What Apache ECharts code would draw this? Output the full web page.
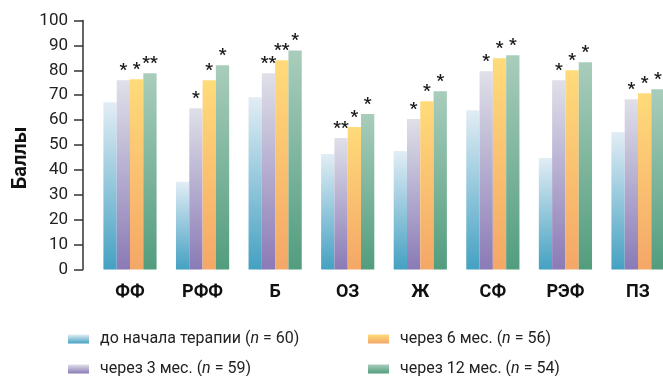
<!DOCTYPE html>
<html>
<head>
<meta charset="utf-8">
<script src="https://cdn.jsdelivr.net/npm/echarts@6/dist/echarts.min.js"></script>
<style>
  html, body { margin: 0; padding: 0; background: #fff; }
  #chart { width: 663px; height: 376px; }
</style>
</head>
<body>
<div id="chart"></div>
<script>
// Quality-of-life domains (scores, 0–100)
const categories = ['ФФ', 'РФФ', 'Б', 'ОЗ', 'Ж', 'СФ', 'РЭФ', 'ПЗ'];

const baseline = [67.2, 35.2, 69.2, 46.4, 47.6, 64.0, 44.8, 55.2];
const month3   = [76.0, 64.8, 78.8, 52.8, 60.4, 79.6, 76.0, 68.4];
const month6   = [76.4, 76.0, 84.0, 57.2, 67.6, 84.8, 80.0, 70.8];
const month12  = [78.8, 82.0, 88.0, 62.4, 71.6, 86.0, 83.2, 72.4];

// significance marks above each bar
const marks0  = ['', '', '', '', '', '', '', ''];
const marks3  = ['*', '*', '**', '**', '*', '*', '*', '*'];
const marks6  = ['*', '*', '**', '*', '*', '*', '*', '*'];
const marks12 = ['**', '*', '*', '*', '*', '*', '*', '*'];

const yTicks = [0, 10, 20, 30, 40, 50, 60, 70, 80, 90, 100];

const seriesNames = [
  'до начала терапии (n = 60)',
  'через 3 мес. (n = 59)',
  'через 6 мес. (n = 56)',
  'через 12 мес. (n = 54)'
];

const FONT = 'Roboto, "Noto Sans", sans-serif';

function grad(top, bottom) {
  return new echarts.graphic.LinearGradient(0, 0, 0, 1, [
    { offset: 0, color: top },
    { offset: 1, color: bottom }
  ]);
}

const palette = [
  grad('#e2edf5', '#44a1c2'),
  grad('#dfe0e9', '#8a7ab6'),
  grad('#ffdb7a', '#f4a767'),
  grad('#a9cdbb', '#529d7e')
];

function makeSeries(idx, values, marks) {
  return {
    name: seriesNames[idx],
    type: 'bar',
    barWidth: 13.3,
    barGap: '0%',
    clip: false,
    data: values,
    itemStyle: { color: palette[idx] },
    label: {
      show: true,
      position: 'top',
      distance: 1,
      formatter: p => marks[p.dataIndex],
      fontFamily: FONT,
      fontSize: 17,
      fontWeight: 'bold',
      color: '#1a1a1a'
    }
  };
}

function legendFormatter(name) {
  const m = name.match(/^(.*\()n( = .*)$/);
  return '{a|' + m[1] + '}{i|n}{a|' + m[2] + '}';
}

const legendText = {
  fontFamily: FONT,
  fontSize: 16,
  color: '#222',
  padding: [0, 0, 0, 6],
  rich: {
    a: { fontFamily: FONT, fontSize: 16, color: '#222' },
    i: { fontFamily: FONT, fontSize: 16, color: '#222', fontStyle: 'italic' }
  }
};

// one legend block per entry, laid out in two columns
const legendSlots = [
  { left: 68, top: 331 },
  { left: 68, top: 361 },
  { left: 368, top: 331 },
  { left: 368, top: 361 }
];
const legends = seriesNames.map((name, i) => ({
  left: legendSlots[i].left,
  top: legendSlots[i].top,
  padding: 0,
  itemWidth: 21,
  itemHeight: 9,
  icon: 'rect',
  selectedMode: false,
  data: [name],
  formatter: legendFormatter,
  textStyle: legendText
}));

const chart = echarts.init(document.getElementById('chart'), null, { renderer: 'canvas' });

chart.setOption({
  animation: false,
  // category centres sit on the grid edges (boundaryGap off)
  grid: { left: 130, right: 25, top: 20.5, bottom: 106.5, containLabel: false },
  xAxis: {
    type: 'category',
    data: categories,
    boundaryGap: false,
    axisLine: { show: false },
    axisTick: { show: false },
    axisLabel: {
      margin: 14,
      fontFamily: FONT,
      fontSize: 18,
      fontWeight: 'bold',
      color: '#111'
    }
  },
  yAxis: {
    type: 'value',
    min: 0,
    max: 100,
    interval: 10,
    offset: 47,
    axisLine: { show: true, lineStyle: { color: '#333', width: 1.5 } },
    axisTick: { show: true, inside: false, length: 9, lineStyle: { color: '#333', width: 1.5 } },
    splitLine: { show: false },
    axisLabel: {
      margin: 15,
      fontFamily: FONT,
      fontSize: 17,
      color: '#222',
      formatter: v => (yTicks.indexOf(v) >= 0 ? String(v) : '')
    }
  },
  legend: legends,
  graphic: [
    {
      type: 'text',
      x: 21, y: 158,
      rotation: Math.PI / 2,
      style: {
        text: 'Баллы',
        fontFamily: FONT,
        fontSize: 20,
        fontWeight: 'bold',
        fill: '#111',
        align: 'center',
        verticalAlign: 'middle'
      }
    }
  ],
  series: [
    makeSeries(0, baseline, marks0),
    makeSeries(1, month3, marks3),
    makeSeries(2, month6, marks6),
    makeSeries(3, month12, marks12)
  ]
});
</script>
</body>
</html>
